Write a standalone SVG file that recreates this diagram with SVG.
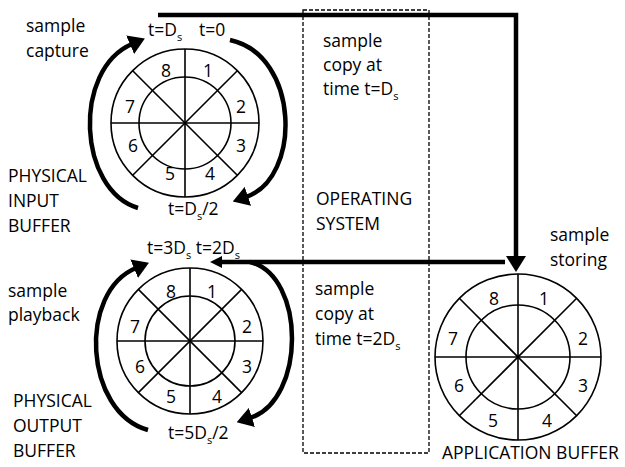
<svg xmlns="http://www.w3.org/2000/svg" width="625" height="467" viewBox="0 0 625 467">
<style>
text{font-family:"Open Sans","Noto Sans",sans-serif;font-size:17.5px;fill:#000}
.n{text-anchor:middle}
.sub{font-size:11px}
.ring{fill:none;stroke:#000;stroke-width:1.6}
.thick{fill:none;stroke:#000;stroke-width:4.5}
.curve{fill:none;stroke:#000;stroke-width:4.5;stroke-linecap:butt}
.dash{fill:none;stroke:#000;stroke-width:1.3;stroke-dasharray:4 2}
</style>
<defs>
<marker id="ah" markerUnits="userSpaceOnUse" markerWidth="16" markerHeight="20" refX="2" refY="10" orient="auto">
<path d="M0,0 L16,10 L0,20 Z" fill="#000"/>
</marker>
<marker id="ahs" markerUnits="userSpaceOnUse" markerWidth="12" markerHeight="12" refX="2" refY="6" orient="auto">
<path d="M0,0 L12,6 L0,12 Z" fill="#000"/>
</marker>
<g id="wheel">
<circle r="1" class="ring"/>
</g>
</defs>

<rect id="os-box" class="dash" x="303" y="10" width="126" height="443"/>

<g id="input-buffer">
<circle cx="185" cy="123" r="74" class="ring"/>
<circle cx="185" cy="123" r="46" class="ring"/>
<line x1="185" y1="49" x2="185" y2="197" class="ring"/>
<line x1="111" y1="123" x2="259" y2="123" class="ring"/>
<line x1="132.7" y1="70.7" x2="237.3" y2="175.3" class="ring"/>
<line x1="237.3" y1="70.7" x2="132.7" y2="175.3" class="ring"/>
<text class="n" x="166" y="77">8</text>
<text class="n" x="208" y="77">1</text>
<text class="n" x="130" y="113">7</text>
<text class="n" x="241" y="113">2</text>
<text class="n" x="133" y="152">6</text>
<text class="n" x="241" y="152">3</text>
<text class="n" x="170" y="180">5</text>
<text class="n" x="210" y="180">4</text>
</g>

<g id="output-buffer">
<circle cx="190" cy="341" r="73" class="ring"/>
<circle cx="190" cy="341" r="45" class="ring"/>
<line x1="190" y1="268" x2="190" y2="414" class="ring"/>
<line x1="117" y1="341" x2="263" y2="341" class="ring"/>
<line x1="138.4" y1="289.4" x2="241.6" y2="392.6" class="ring"/>
<line x1="241.6" y1="289.4" x2="138.4" y2="392.6" class="ring"/>
<text class="n" x="171" y="298">8</text>
<text class="n" x="212" y="298">1</text>
<text class="n" x="135" y="333">7</text>
<text class="n" x="247" y="333">2</text>
<text class="n" x="140" y="373">6</text>
<text class="n" x="247" y="373">3</text>
<text class="n" x="171" y="403">5</text>
<text class="n" x="217" y="403">4</text>
</g>

<g id="application-buffer">
<circle cx="518" cy="357" r="83" class="ring"/>
<circle cx="518" cy="357" r="52" class="ring"/>
<line x1="518" y1="274" x2="518" y2="440" class="ring"/>
<line x1="435" y1="357" x2="601" y2="357" class="ring"/>
<line x1="459.3" y1="298.3" x2="576.7" y2="415.7" class="ring"/>
<line x1="576.7" y1="298.3" x2="459.3" y2="415.7" class="ring"/>
<text class="n" x="494" y="305">8</text>
<text class="n" x="544" y="305">1</text>
<text class="n" x="453" y="345">7</text>
<text class="n" x="583" y="345">2</text>
<text class="n" x="459" y="392">6</text>
<text class="n" x="583" y="392">3</text>
<text class="n" x="493" y="427">5</text>
<text class="n" x="547" y="427">4</text>
<text x="442" y="459">APPLICATION BUFFER</text>
</g>

<g id="connectors">
<path class="thick" d="M158,15 H516 V258" marker-end="url(#ah)"/>
<path class="thick" d="M505,262 H220" stroke-width="4" marker-end="url(#ahs)"/>
<path class="curve" d="M138,208 C78,190 72,70 132,44" marker-end="url(#ah)"/>
<path class="curve" d="M230,40 C300,55 302,178 246,197" marker-end="url(#ah)"/>
<path class="curve" d="M148,430 C84,412 78,292 136,268" marker-end="url(#ah)"/>
<path class="curve" d="M250,262 C306,276 306,400 250,418" marker-end="url(#ah)"/>
</g>

<g id="labels">
<text x="26" y="32">sample</text>
<text x="26" y="57">capture</text>
<text x="148" y="36">t=D<tspan class="sub" dy="5">s</tspan></text>
<text x="199" y="36">t=0</text>
<text x="168" y="215">t=D<tspan class="sub" dy="5">s</tspan><tspan dy="-5">/2</tspan></text>
<text x="8" y="182">PHYSICAL</text>
<text x="8" y="207">INPUT</text>
<text x="8" y="232">BUFFER</text>
<text x="147" y="254">t=3D<tspan class="sub" dy="5">s</tspan><tspan dy="-5"> t=2D</tspan><tspan class="sub" dy="5">s</tspan></text>
<text x="8" y="297">sample</text>
<text x="8" y="321">playback</text>
<text x="13" y="407">PHYSICAL</text>
<text x="13" y="432">OUTPUT</text>
<text x="13" y="457">BUFFER</text>
<text x="168" y="439">t=5D<tspan class="sub" dy="5">s</tspan><tspan dy="-5">/2</tspan></text>
<text x="323" y="47">sample</text>
<text x="323" y="71">copy at</text>
<text x="323" y="95">time t=D<tspan class="sub" dy="5">s</tspan></text>
<text x="316" y="205">OPERATING</text>
<text x="316" y="230">SYSTEM</text>
<text x="315" y="295">sample</text>
<text x="315" y="320">copy at</text>
<text x="315" y="345">time t=2D<tspan class="sub" dy="5">s</tspan></text>
<text x="550" y="241">sample</text>
<text x="550" y="266">storing</text>
</g>
</svg>
